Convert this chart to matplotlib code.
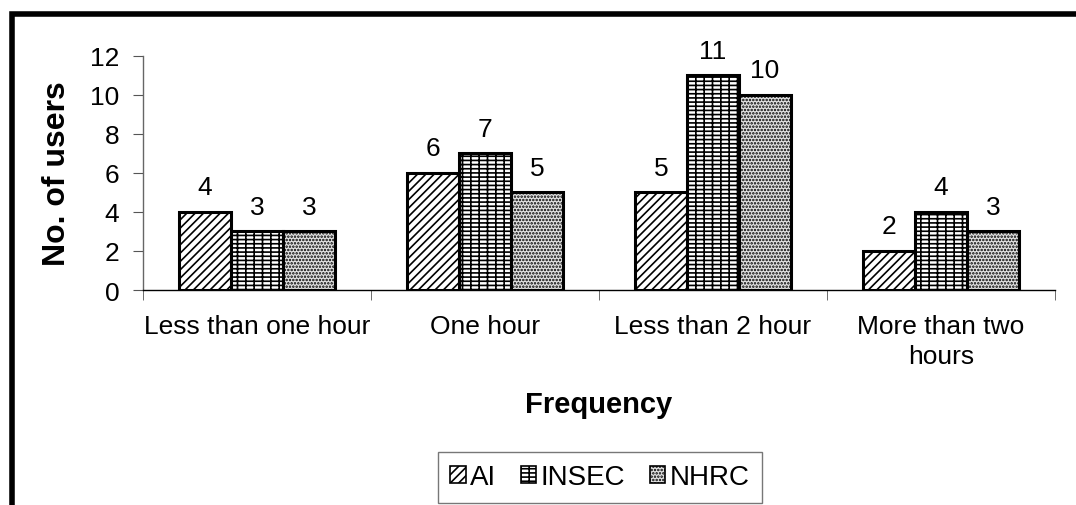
import matplotlib
matplotlib.use("Agg")
import matplotlib.pyplot as plt
from matplotlib.lines import Line2D
import numpy as np

plt.rcParams['font.family'] = ['Liberation Sans', 'DejaVu Sans']
plt.rcParams['hatch.linewidth'] = 1.2

categories = ["Less than one hour", "One hour", "Less than 2 hour", "More than two\nhours"]
series_names = ["AI", "INSEC", "NHRC"]
al_values = [4, 6, 5, 2]
insec_values = [3, 7, 11, 4]
nhrc_values = [3, 5, 10, 3]
y_ticks = [0, 2, 4, 6, 8, 10, 12]

fig = plt.figure(figsize=(10.76, 5.06), dpi=100)
ax = fig.add_axes([0.1329, 0.4249, 0.8476, 0.4625])

x = np.arange(len(categories))
width = 0.228
styles = [
    dict(facecolor="white", hatch="////"),
    dict(facecolor="white", hatch="----||"),
    dict(facecolor="#e2e2e2", hatch="....."),
]
all_values = [al_values, insec_values, nhrc_values]
handles = []
for i, (vals, st) in enumerate(zip(all_values, styles)):
    pos = x + (i - 1) * width
    bars = ax.bar(pos, vals, width, edgecolor="black", linewidth=2.2,
                  label=series_names[i], **st)
    handles.append(bars)
    for xp, v in zip(pos, vals):
        ax.annotate(str(v), (xp, v), xytext=(0, 9), textcoords="offset points",
                    ha="center", va="bottom", fontsize=19)

ax.set_xlim(-0.5, len(categories) - 0.5)
ax.set_ylim(0, 12)
ax.set_yticks(y_ticks)
ax.tick_params(axis="y", labelsize=19, length=7, color="#555555", pad=10)
ax.set_xticks(x)
ax.set_xticklabels(categories, fontsize=19, linespacing=1.35)
ax.tick_params(axis="x", length=0, pad=17)
ax.set_xticks(np.arange(len(categories) + 1) - 0.5, minor=True)
ax.tick_params(axis="x", which="minor", length=7, color="#555555")

for s in ["top", "right"]:
    ax.spines[s].set_visible(False)
ax.spines["left"].set_color("#666666")
ax.spines["left"].set_linewidth(1)
ax.spines["bottom"].set_color("black")
ax.spines["bottom"].set_linewidth(1)

ax.set_ylabel("No. of users", fontsize=23, fontweight="bold", labelpad=13)
ax.set_xlabel("Frequency", fontsize=21, fontweight="bold", labelpad=16)

leg = fig.legend(handles=handles, labels=series_names, loc="center",
                 bbox_to_anchor=(0.5576, 0.0553), ncol=3, fontsize=20,
                 frameon=True, fancybox=False, edgecolor="#555555",
                 handlelength=0.55, handleheight=0.55, handletextpad=0.15,
                 columnspacing=0.9, borderpad=0.45)
leg.get_frame().set_linewidth(1)
for h in leg.legend_handles:
    h.set_linewidth(1.2)

# thick outer frame along the left and top edges
fig.add_artist(Line2D([11.5 / 1076, 11.5 / 1076, 1.0], [0.0, 1 - 15 / 506, 1 - 15 / 506],
                      transform=fig.transFigure, color="black", linewidth=4,
                      solid_joinstyle="miter"))

fig.savefig("out.png", dpi=100)
